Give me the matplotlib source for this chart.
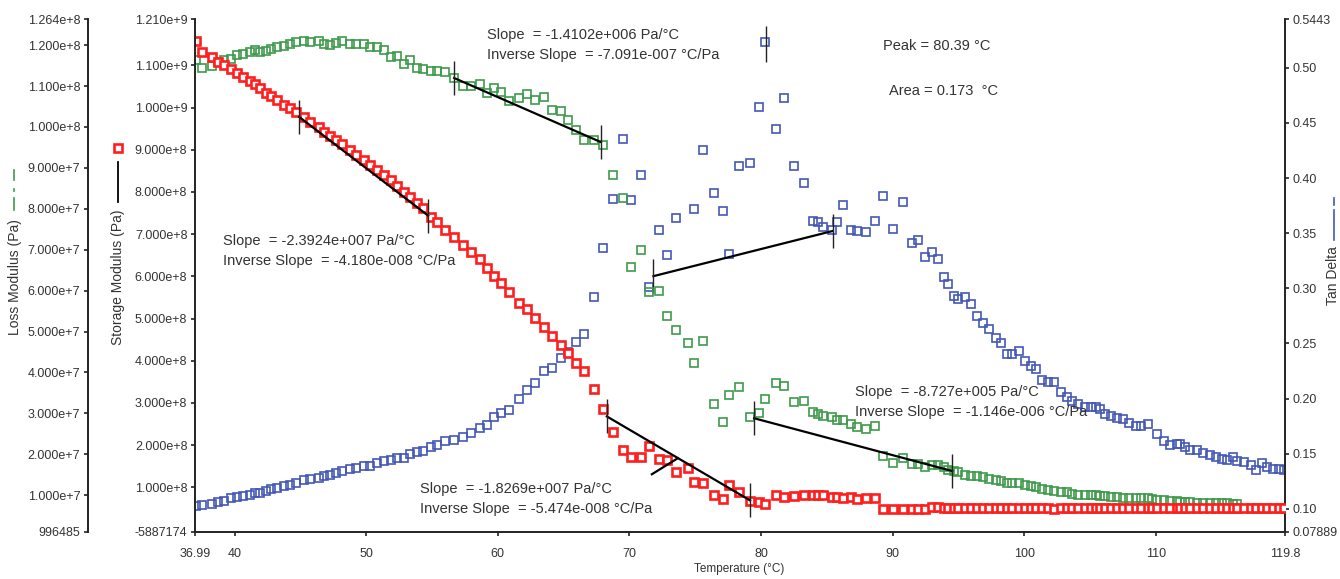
import numpy as np
import matplotlib
matplotlib.use("Agg")
import matplotlib.pyplot as plt
from matplotlib.lines import Line2D
from matplotlib.ticker import FixedLocator, FixedFormatter

plt.rcParams['font.family'] = ['Liberation Sans', 'DejaVu Sans']

# temperature of every data point (°C)
temperature = [
    37.04, 37.53, 38.29, 38.77, 39.17, 39.73, 40.19, 40.64, 41.17, 41.55,
    41.90, 42.39, 42.79, 43.25, 43.78, 44.21, 44.64, 45.24, 45.73, 46.41,
    46.79, 47.27, 47.73, 48.16, 48.74, 49.24, 49.83, 50.25, 50.84, 51.32,
    51.85, 52.36, 52.84, 53.32, 53.85, 54.31, 54.92, 55.40, 56.00, 56.66,
    57.35, 57.95, 58.64, 59.17, 59.67, 60.26, 60.86, 61.57, 62.23, 62.84,
    63.50, 64.13, 64.79, 65.29, 65.97, 66.58, 67.34,
    67.98, 68.78, 69.54, 70.13, 70.86, 71.49, 72.25, 72.86, 73.56, 74.43,
    74.93, 75.62, 76.45, 77.11, 77.59, 78.33, 79.16, 79.87, 80.31, 81.11,
    81.77, 82.53, 83.26, 83.97, 84.35, 84.73, 85.36, 85.79, 86.25, 86.83,
    87.26, 87.97, 88.65, 89.28, 90.04, 90.80, 91.44, 91.94, 92.45, 92.96,
    93.46,
    93.89, 94.22, 94.65, 94.98, 95.49, 95.92, 96.38, 96.88, 97.33, 97.82,
    98.22, 98.65, 99.08, 99.61, 100.04, 100.48, 100.88, 101.31, 101.77, 102.27,
    102.75, 103.21, 103.63, 104.09, 104.60, 105.03, 105.41, 105.74, 106.12, 106.57,
    107.01, 107.46, 107.96, 108.45, 108.85, 109.36, 109.69, 110.04, 110.62, 111.05,
    111.56, 111.81, 112.19, 112.62, 113.08, 113.58, 114.09, 114.52, 114.98, 115.40,
    115.86, 116.19, 116.69, 117.20, 117.56, 118.02, 118.44, 118.90, 119.35, 119.73,
]

# storage modulus, 1e8 Pa
storage_e8 = [
    11.59, 11.31, 11.21, 11.09, 11.01, 10.92, 10.83, 10.73, 10.63, 10.55,
    10.47, 10.35, 10.28, 10.18, 10.06, 9.98, 9.89, 9.77, 9.67, 9.55,
    9.43, 9.33, 9.23, 9.13, 9.00, 8.88, 8.76, 8.64, 8.52, 8.40,
    8.28, 8.15, 8.01, 7.89, 7.73, 7.61, 7.41, 7.30, 7.10, 6.94,
    6.74, 6.57, 6.40, 6.19, 6.01, 5.84, 5.64, 5.38, 5.23, 5.02,
    4.81, 4.59, 4.37, 4.18, 3.95, 3.76, 3.33,
    2.85, 2.31, 1.89, 1.71, 1.71, 1.98, 1.68, 1.65, 1.36, 1.45,
    1.12, 1.10, 0.82, 0.72, 1.06, 0.90, 0.68, 0.65, 0.61, 0.82,
    0.76, 0.79, 0.82, 0.82, 0.82, 0.82, 0.78, 0.76, 0.74, 0.76,
    0.73, 0.74, 0.74, 0.49, 0.49, 0.49, 0.49, 0.49, 0.49, 0.53,
    0.53,
    0.52, 0.52, 0.52, 0.52, 0.52, 0.52, 0.52, 0.52, 0.52, 0.52,
    0.52, 0.52, 0.52, 0.52, 0.52, 0.52, 0.52, 0.52, 0.52, 0.48,
    0.50, 0.50, 0.50, 0.50, 0.50, 0.50, 0.50, 0.50, 0.50, 0.50,
    0.50, 0.50, 0.50, 0.50, 0.50, 0.50, 0.50, 0.50, 0.50, 0.50,
    0.50, 0.50, 0.50, 0.50, 0.50, 0.50, 0.50, 0.50, 0.50, 0.50,
    0.50, 0.50, 0.50, 0.50, 0.50, 0.50, 0.50, 0.50, 0.50, 0.50,
]

# loss modulus, 1e7 Pa
nan = float('nan')
loss_e7 = [
    11.63, 11.45, 11.48, 11.58, 11.64, 11.67, 11.75, 11.78, 11.83, 11.89,
    11.83, 11.86, 11.90, 11.95, 11.99, 12.02, 12.07, 12.10, 12.07, 12.10,
    12.02, 12.01, 12.06, 12.10, 12.03, 12.03, 12.03, 11.95, 11.95, 11.89,
    11.70, 11.74, 11.54, 11.63, 11.45, 11.42, 11.38, 11.38, 11.34, 11.20,
    10.99, 10.99, 11.06, 10.83, 10.95, 10.85, 10.63, 10.71, 10.81, 10.65,
    10.73, 10.41, 10.38, 10.16, 9.92, 9.69, 9.69,
    9.57, 8.82, 8.26, 6.57, 7.00, 5.96, 6.00, 5.39, 5.03, 4.71,
    4.24, 4.76, 3.22, 2.80, 3.46, 3.65, 2.92, 3.00, 3.35, 3.75,
    3.68, 3.27, 3.31, 3.04, 2.98, 2.94, 2.90, 2.84, 2.83, 2.74,
    2.66, 2.62, 2.68, 1.95, 1.78, 1.91, 1.77, 1.77, 1.70, 1.74,
    1.74,
    1.70, 1.62, 1.59, 1.56, 1.50, 1.48, 1.48, 1.44, 1.40, 1.38,
    1.35, 1.30, 1.30, 1.30, 1.26, 1.22, 1.20, 1.16, 1.13, 1.11,
    1.08, 1.07, 1.04, 1.01, 1.01, 1.01, 1.00, 0.98, 0.97, 0.95,
    0.95, 0.93, 0.92, 0.92, 0.92, 0.92, 0.90, 0.88, 0.87, 0.85,
    0.85, 0.84, 0.83, 0.83, 0.82, 0.81, 0.81, 0.80, 0.80, 0.80,
    0.79, 0.79, nan, nan, nan, nan, nan, nan, nan, nan,
]

tan_delta = [
    0.1024, 0.1033, 0.1042, 0.1057, 0.1072, 0.1093, 0.1108, 0.1117, 0.1123, 0.1144,
    0.1144, 0.1162, 0.1182, 0.1191, 0.1204, 0.1213, 0.1236, 0.1258, 0.1267, 0.1281,
    0.1296, 0.1308, 0.1326, 0.1341, 0.1362, 0.1371, 0.1392, 0.1392, 0.1416, 0.1431,
    0.1443, 0.1461, 0.1461, 0.1497, 0.1512, 0.1521, 0.1557, 0.1577, 0.1611, 0.1622,
    0.1647, 0.1691, 0.1736, 0.1761, 0.1835, 0.1871, 0.1895, 0.1997, 0.2075, 0.2140,
    0.2246, 0.2281, 0.2371, 0.2425, 0.2515, 0.2589, 0.2919,
    0.3368, 0.3811, 0.4356, 0.3802, 0.4026, 0.3009, 0.3526, 0.3299, 0.3637, nan,
    0.3718, 0.4251, 0.3867, 0.3697, 0.3308, 0.4107, 0.4137, 0.4649, 0.5230, 0.4446,
    0.4729, 0.4107, 0.3957, 0.3607, 0.3601, 0.3557, 0.3526, 0.3598, 0.3757, 0.3526,
    0.3517, 0.3508, 0.3607, 0.3838, 0.3539, 0.3787, 0.3413, 0.3436, 0.3287, 0.3329,
    0.3269,
    0.3099, 0.3038, 0.2928, 0.2904, 0.2919, 0.2859, 0.2748, 0.2688, 0.2634, 0.2551,
    0.2500, 0.2404, 0.2404, 0.2431, 0.2341, 0.2296, 0.2269, 0.2170, 0.2149, 0.2147,
    0.2057, 0.2012, 0.1976, 0.1952, 0.1922, 0.1922, 0.1922, 0.1901, 0.1856, 0.1841,
    0.1820, 0.1817, 0.1781, 0.1751, 0.1751, 0.1766, nan, 0.1682, 0.1617, 0.1577,
    0.1586, 0.1586, 0.1557, 0.1533, 0.1533, 0.1503, 0.1491, 0.1473, 0.1452, 0.1443,
    0.1473, 0.1431, 0.1422, 0.1401, 0.1353, 0.1416, 0.1383, 0.1362, 0.1356, 0.1347,
]

# fitted slope segments (start, end)
storage_fit1_t = [44.90, 54.70]
storage_fit1_v = [9.78e8, 7.44e8]
storage_fit2_t = [68.28, 79.16]
storage_fit2_v = [2.68e8, 0.69e8]
storage_tangent_t = [71.70, 73.67]
storage_tangent_v = [1.31e8, 1.69e8]
loss_fit1_t = [56.68, 67.83]
loss_fit1_v = [1.1197e8, 9.63e7]
loss_fit2_t = [79.47, 94.52]
loss_fit2_v = [2.88e7, 1.59e7]
tan_fit_t = [71.82, 85.44]
tan_fit_v = [0.311, 0.352]
peak_t = 80.39
peak_v = 0.522

x_ticks = [36.99, 40, 50, 60, 70, 80, 90, 100, 110, 119.8]
x_labels = ["36.99", "40", "50", "60", "70", "80", "90", "100", "110", "119.8"]
storage_ticks = [-5887174] + [i * 1e8 for i in range(1, 12)] + [1.21e9]
storage_labels = ["-5887174"] + ["%.3fe+8" % i for i in range(1, 10)] + ["1.000e+9", "1.100e+9", "1.210e+9"]
loss_ticks = [996485] + [i * 1e7 for i in range(1, 10)] + [1.0e8, 1.1e8, 1.2e8, 1.264e8]
loss_labels = ["996485"] + ["%.3fe+7" % i for i in range(1, 10)] + ["1.000e+8", "1.100e+8", "1.200e+8", "1.264e+8"]
tan_ticks = [0.07889, 0.10, 0.15, 0.20, 0.25, 0.30, 0.35, 0.40, 0.45, 0.50, 0.5443]
tan_labels = ["0.07889", "0.10", "0.15", "0.20", "0.25", "0.30", "0.35", "0.40", "0.45", "0.50", "0.5443"]

W, H = 1340, 579
TXT = '#333333'
RED, GREEN, BLUE = '#ff1e1e', '#3d9a4c', '#4257b5'


def fpos(x, y):
    return x / W, 1 - y / H


def vseg(x, y0, y1, **kw):
    # vertical glyph segment in figure pixels
    fig.add_artist(Line2D([x / W, x / W], [1 - y1 / H, 1 - y0 / H],
                          transform=fig.transFigure, **kw))


fig = plt.figure(figsize=(W / 100, H / 100), dpi=100)
fig.patch.set_facecolor('white')
rect = [195 / W, 1 - 532 / H, 1090 / W, 513 / H]
ax_tan = fig.add_axes(rect)
ax_loss = fig.add_axes(rect, sharex=ax_tan)
ax = fig.add_axes(rect, sharex=ax_tan)
for a, z in ((ax_tan, 1), (ax_loss, 2), (ax, 3)):
    a.set_zorder(z)
    a.patch.set_visible(False)
    for s in a.spines.values():
        s.set_visible(False)
        s.set_color('#222222')
        s.set_linewidth(1.4)
    a.tick_params(colors='#222222', labelcolor=TXT, labelsize=9, width=1.2, length=3, pad=2.5)

t = np.array(temperature)
ms = 6.4
ax_tan.plot(t, tan_delta, 's', ms=ms, mfc='none', mec=BLUE, mew=1.2)
ax_loss.plot(t, np.array(loss_e7) * 1e7, 's', ms=ms, mfc='none', mec=GREEN, mew=1.2)
ax.plot(t, np.array(storage_e8) * 1e8, 's', ms=ms, mfc='white', mec=RED, mew=1.9)

# fit lines with end markers
for a, xs, ys in ((ax, storage_fit1_t, storage_fit1_v), (ax, storage_fit2_t, storage_fit2_v),
                  (ax_loss, loss_fit1_t, loss_fit1_v), (ax_loss, loss_fit2_t, loss_fit2_v),
                  (ax_tan, tan_fit_t, tan_fit_v)):
    a.plot(xs, ys, color='black', lw=1.6, zorder=5)
    a.plot(xs, ys, ls='none', marker='|', ms=24, mew=1.0, color='#222222', zorder=5)
ax.plot(storage_tangent_t, storage_tangent_v, color='black', lw=1.6, zorder=5)
ax_tan.plot([peak_t], [peak_v], ls='none', marker='|', ms=26, mew=1.0, color='#222222')

# axes setup
ax.set_xlim(36.99, 119.8)
ax.set_ylim(-5887174, 1.21e9)
ax_loss.set_ylim(996485, 1.264e8)
ax_tan.set_ylim(0.07889, 0.5443)

ax.spines['left'].set_visible(True)
ax.spines['bottom'].set_visible(True)
ax.xaxis.set_major_locator(FixedLocator(x_ticks))
ax.xaxis.set_major_formatter(FixedFormatter(x_labels))
ax.yaxis.set_major_locator(FixedLocator(storage_ticks))
ax.yaxis.set_major_formatter(FixedFormatter(storage_labels))
ax.tick_params(axis='x', pad=8.5)

ax_loss.spines['left'].set_visible(True)
ax_loss.spines['left'].set_position(('axes', -107 / 1090))
ax_loss.yaxis.set_major_locator(FixedLocator(loss_ticks))
ax_loss.yaxis.set_major_formatter(FixedFormatter(loss_labels))
ax_loss.tick_params(axis='x', bottom=False, labelbottom=False)

ax_tan.spines['right'].set_visible(True)
ax_tan.yaxis.tick_right()
ax_tan.yaxis.set_major_locator(FixedLocator(tan_ticks))
ax_tan.yaxis.set_major_formatter(FixedFormatter(tan_labels))
ax_tan.tick_params(axis='x', bottom=False, labelbottom=False)

# axis titles with their legend glyphs
fig.text(*fpos(739, 569), "Temperature (°C)", ha='center', va='center', fontsize=8.5, color=TXT)

fig.text(*fpos(15, 277), "Loss Modulus (Pa)", rotation=90, ha='center', va='center', fontsize=10, color=TXT)
for y0, y1 in ((170, 180), (189, 191.5), (198, 210)):
    vseg(14, y0, y1, color=GREEN, lw=1.2)

fig.text(*fpos(118, 277), "Storage Modulus (Pa)", rotation=90, ha='center', va='center', fontsize=10, color=TXT)
vseg(118, 162, 202, color='black', lw=1.3)
fig.add_artist(Line2D([118 / W], [1 - 148 / H], transform=fig.transFigure, ls='none', marker='s',
                      ms=6, mfc='white', mec=RED, mew=1.9))

fig.text(*fpos(1333, 276), "Tan Delta", rotation=90, ha='center', va='center', fontsize=10, color=TXT)
for y0, y1 in ((198, 205), (210, 240)):
    vseg(1334, y0, y1, color=BLUE, lw=1.2)

# slope annotations
notes = [
    (487, 35.5, "Slope  = -1.4102e+006 Pa/°C"),
    (487, 55.5, "Inverse Slope  = -7.091e-007 °C/Pa"),
    (883, 45.5, "Peak = 80.39 °C"),
    (889, 91, "Area = 0.173  °C"),
    (223.5, 241.5, "Slope  = -2.3924e+007 Pa/°C"),
    (223.5, 261, "Inverse Slope  = -4.180e-008 °C/Pa"),
    (419.5, 489, "Slope  = -1.8269e+007 Pa/°C"),
    (419.5, 509, "Inverse Slope  = -5.474e-008 °C/Pa"),
    (855, 392, "Slope  = -8.727e+005 Pa/°C"),
    (855, 412, "Inverse Slope  = -1.146e-006 °C/Pa"),
]
for x, y, s in notes:
    fig.text(*fpos(x, y), s, ha='left', va='center', fontsize=10.5, color=TXT, zorder=10)

fig.savefig("out.png", dpi=100)
